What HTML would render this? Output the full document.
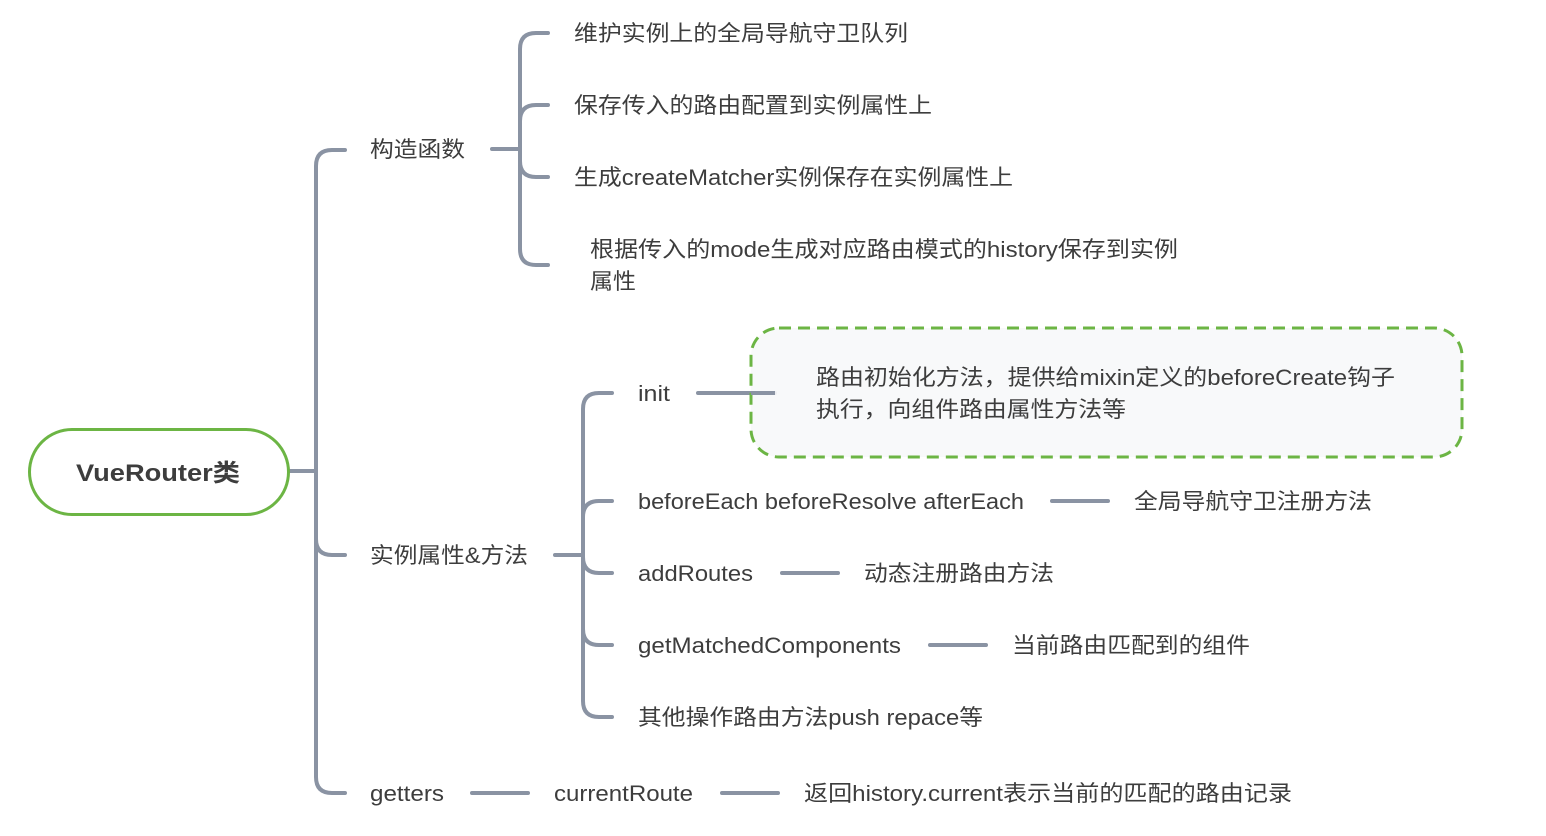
<!DOCTYPE html>
<html><head><meta charset="utf-8"><style>
html,body{margin:0;padding:0;background:#fff;}
svg{display:block;}
text{font-family:"Liberation Sans","Noto Sans CJK SC",sans-serif;font-size:22px;fill:#3d3d3d;}
</style></head><body>
<svg width="1546" height="836" viewBox="0 0 1546 836" xmlns="http://www.w3.org/2000/svg">
<g fill="none" stroke="#8a93a3" stroke-width="4" stroke-linecap="round">
<!-- root -->
<path d="M289 471 H316"/>
<path d="M345 150 H332 Q316 150 316 166 V777 Q316 793 332 793 H345"/>
<path d="M316 539 Q316 555 332 555 H345"/>
<!-- constructor -->
<path d="M492 149 H520"/>
<path d="M548 33 H536 Q520 33 520 49 V249 Q520 265 536 265 H548"/>
<path d="M520 121 Q520 105 536 105 H548"/>
<path d="M520 161 Q520 177 536 177 H548"/>
<!-- instance -->
<path d="M555 555 H583"/>
<path d="M612 393 H599 Q583 393 583 409 V701 Q583 717 599 717 H612"/>
<path d="M583 517 Q583 501 599 501 H612"/>
<path d="M583 557 Q583 573 599 573 H612"/>
<path d="M583 629 Q583 645 599 645 H612"/>
<path d="M698 393 H775"/>
<path d="M1052 501 H1108"/>
<path d="M782 573 H838"/>
<path d="M930 645 H986"/>
<!-- getters -->
<path d="M472 793 H528"/>
<path d="M722 793 H778"/>
</g>
<rect x="751" y="328" width="711" height="129" rx="28" fill="#f7f8fa" fill-opacity="0.9" stroke="#6cb544" stroke-width="3" stroke-dasharray="12 7"/>
<path d="M751 393 H775" stroke="#8a93a3" stroke-width="4"/>
<rect x="29.5" y="429.5" width="259" height="85" rx="42.5" fill="#fff" stroke="#6cb544" stroke-width="3"/>
<text x="158" y="481" text-anchor="middle" style="font-weight:bold;font-size:24px" textLength="164" lengthAdjust="spacingAndGlyphs">VueRouter类</text>
<text x="370" y="157" textLength="95" lengthAdjust="spacingAndGlyphs">构造函数</text>
<text x="370" y="563" textLength="158" lengthAdjust="spacingAndGlyphs">实例属性&amp;方法</text>
<text x="370" y="801" textLength="74" lengthAdjust="spacingAndGlyphs">getters</text>
<text x="574" y="41" textLength="334" lengthAdjust="spacingAndGlyphs">维护实例上的全局导航守卫队列</text>
<text x="574" y="113" textLength="358" lengthAdjust="spacingAndGlyphs">保存传入的路由配置到实例属性上</text>
<text x="574" y="185" textLength="439" lengthAdjust="spacingAndGlyphs">生成createMatcher实例保存在实例属性上</text>
<text x="590" y="257" textLength="588" lengthAdjust="spacingAndGlyphs">根据传入的mode生成对应路由模式的history保存到实例</text>
<text x="590" y="289" textLength="46" lengthAdjust="spacingAndGlyphs">属性</text>
<text x="638" y="401" textLength="32" lengthAdjust="spacingAndGlyphs">init</text>
<text x="816" y="385" textLength="579" lengthAdjust="spacingAndGlyphs">路由初始化方法，提供给mixin定义的beforeCreate钩子</text>
<text x="816" y="417" textLength="310" lengthAdjust="spacingAndGlyphs">执行，向组件路由属性方法等</text>
<text x="638" y="509" textLength="386" lengthAdjust="spacingAndGlyphs">beforeEach beforeResolve afterEach</text>
<text x="1134" y="509" textLength="238" lengthAdjust="spacingAndGlyphs">全局导航守卫注册方法</text>
<text x="638" y="581" textLength="115" lengthAdjust="spacingAndGlyphs">addRoutes</text>
<text x="864" y="581" textLength="190" lengthAdjust="spacingAndGlyphs">动态注册路由方法</text>
<text x="638" y="653" textLength="263" lengthAdjust="spacingAndGlyphs">getMatchedComponents</text>
<text x="1012" y="653" textLength="238" lengthAdjust="spacingAndGlyphs">当前路由匹配到的组件</text>
<text x="638" y="725" textLength="345" lengthAdjust="spacingAndGlyphs">其他操作路由方法push repace等</text>
<text x="554" y="801" textLength="139" lengthAdjust="spacingAndGlyphs">currentRoute</text>
<text x="804" y="801" textLength="488" lengthAdjust="spacingAndGlyphs">返回history.current表示当前的匹配的路由记录</text>
</svg>
</body></html>
